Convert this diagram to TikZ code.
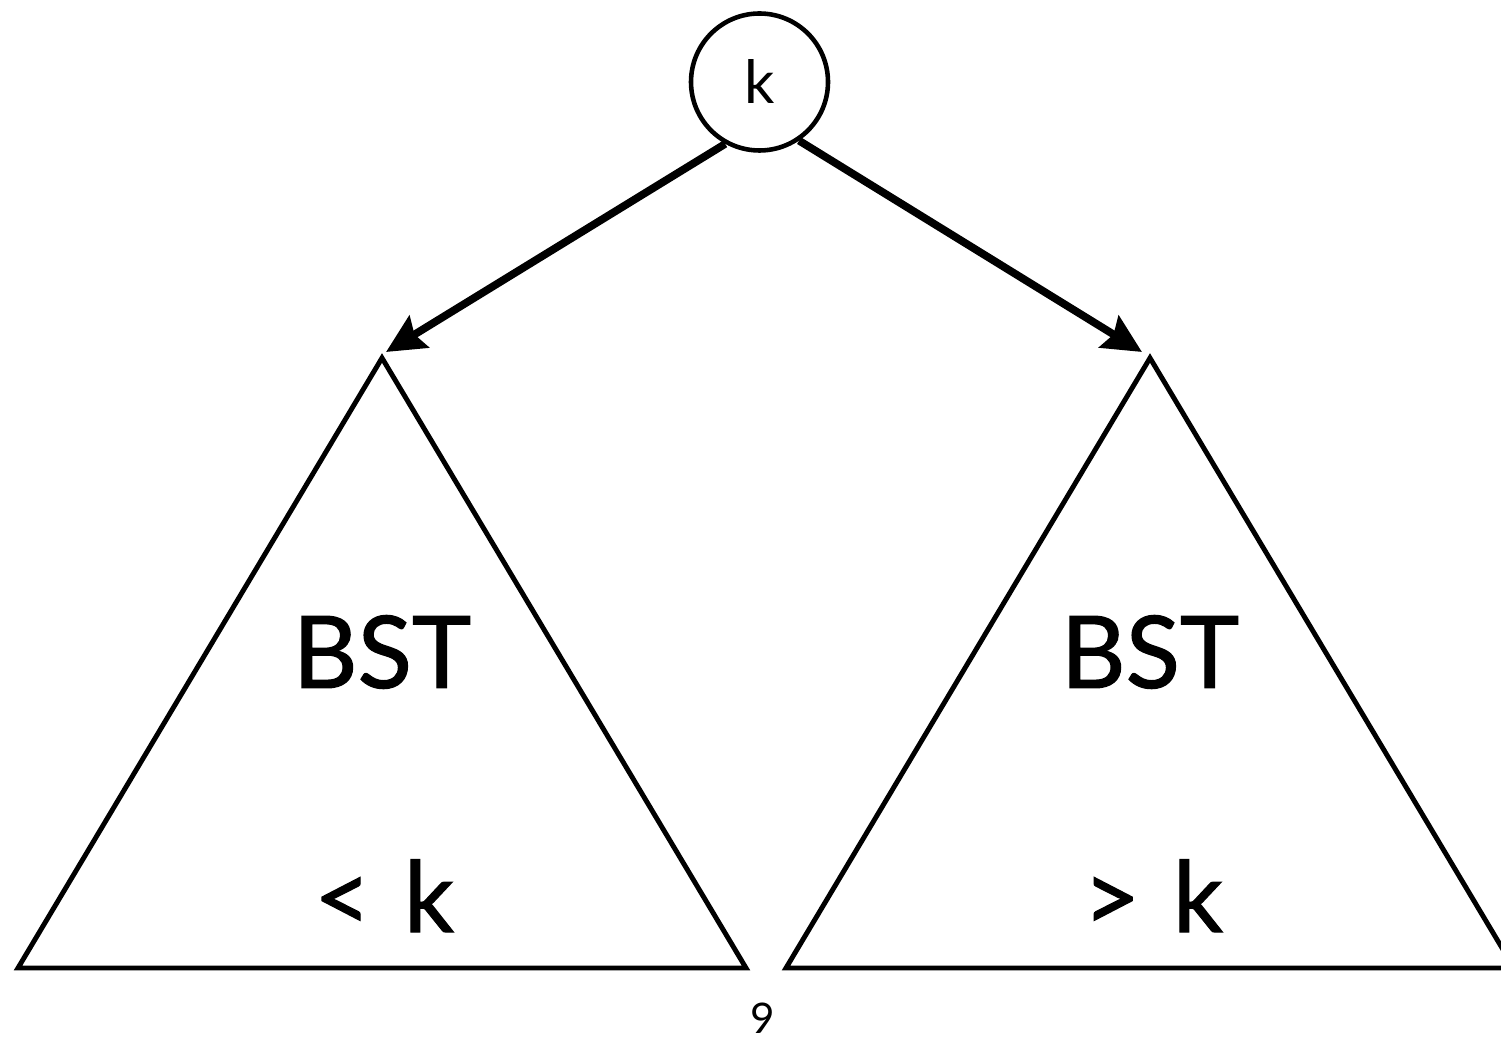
\documentclass[tikz,border=0pt]{standalone}
\usepackage{fontspec}
\setmainfont{Lato}
\newfontfamily\treefont{Lato}[FakeBold=1.2]
\usepackage{tikz}
\usetikzlibrary{arrows.meta}

\tikzset{
    tree/.style={line width=1.4pt, line join=miter},
    link/.style={line width=2.2pt, -{Stealth[length=11pt, width=10.5pt, inset=1.5pt]}},
    keynode/.style={circle, draw, line width=1.3pt, minimum size=1.37cm, inner sep=0pt, font=\fontsize{17}{17}\selectfont},
    big/.style={font=\treefont\fontsize{28.5}{28.5}\selectfont, inner sep=0pt},
    bound/.style={font=\treefont\fontsize{28}{28}\selectfont, inner sep=0pt, anchor=base},
}

\begin{document}
\begin{tikzpicture}
        \useasboundingbox (0, 0) rectangle (15.01, -10.40);

        \node[keynode] (k) at (7.595, -0.82) {k};

        % left subtree
        \draw[tree] (3.82, -3.58) -- (7.46, -9.68) -- (0.18, -9.68) -- cycle;
        \node[big] (lbst) at (3.82, -6.52) {BST};
        \node[bound] (lless) at (3.84, -9.32) {<\,\,k};

        % right subtree
        \draw[tree] (11.50, -3.58) -- (15.14, -9.68) -- (7.86, -9.68) -- cycle;
        \node[big] (rbst) at (11.50, -6.52) {BST};
        \node[bound] (rmore) at (11.53, -9.32) {>\,\,k};

        \coordinate (ltop) at (3.86, -3.52);
        \coordinate (rtop) at (11.42, -3.52);
        \draw[link] (k.241) -- (ltop);
        \draw[link] (k.304) -- (rtop);

        \node[anchor=north, inner sep=0pt, font=\fontsize{12}{12}\selectfont] (page) at (7.63, -10.02) {9};

    \end{tikzpicture}
\end{document}
